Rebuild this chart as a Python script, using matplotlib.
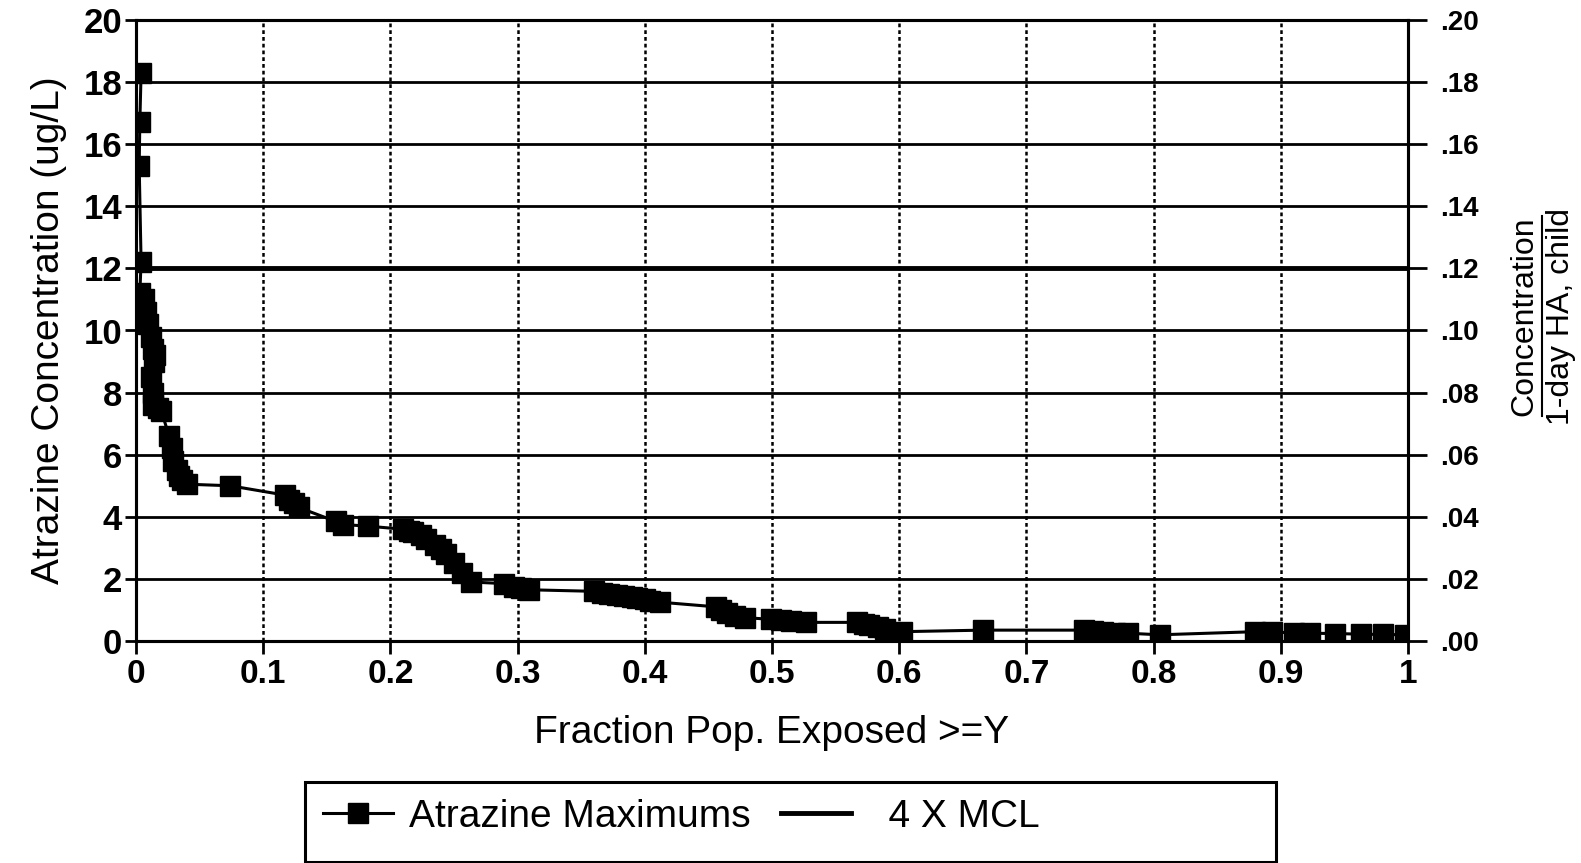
import matplotlib
matplotlib.use("Agg")
import matplotlib.pyplot as plt
from matplotlib.patches import Rectangle
from matplotlib.lines import Line2D

# Datos (fraccion de poblacion expuesta, concentracion ug/L)
frac = [0.004, 0.003, 0.0025, 0.004, 0.003, 0.006, 0.008, 0.0095, 0.012, 0.0135,
        0.015, 0.014, 0.012, 0.013, 0.0135, 0.017, 0.020, 0.026, 0.028, 0.029,
        0.032, 0.034, 0.036, 0.040, 0.074, 0.117, 0.120, 0.124, 0.128, 0.157,
        0.163, 0.182, 0.210, 0.215, 0.218, 0.224, 0.228, 0.235, 0.240, 0.244,
        0.250, 0.256, 0.263, 0.289, 0.297, 0.303, 0.309, 0.360, 0.366, 0.372,
        0.378, 0.384, 0.390, 0.394, 0.400, 0.404, 0.412, 0.456, 0.460, 0.465,
        0.471, 0.479, 0.499, 0.507, 0.515, 0.527, 0.567, 0.572, 0.576, 0.583,
        0.589, 0.602, 0.666, 0.745, 0.752, 0.760, 0.770, 0.780, 0.805, 0.880,
        0.893, 0.910, 0.923, 0.943, 0.963, 0.980, 0.998]
conc = [18.3, 16.7, 15.3, 12.2, 11.2, 11.0, 10.6, 10.2, 9.8, 9.4,
        9.2, 9.0, 8.5, 8.0, 7.6, 7.5, 7.4, 6.6, 6.2, 5.8,
        5.5, 5.3, 5.2, 5.05, 5.0, 4.7, 4.55, 4.45, 4.3, 3.85,
        3.75, 3.7, 3.6, 3.55, 3.5, 3.4, 3.3, 3.1, 2.95, 2.8,
        2.5, 2.2, 1.9, 1.85, 1.75, 1.7, 1.65, 1.6, 1.55, 1.5,
        1.48, 1.45, 1.42, 1.4, 1.35, 1.3, 1.25, 1.1, 1.0, 0.9,
        0.8, 0.75, 0.7, 0.68, 0.65, 0.6, 0.6, 0.55, 0.5, 0.45,
        0.4, 0.3, 0.35, 0.35, 0.32, 0.3, 0.27, 0.25, 0.2, 0.3,
        0.28, 0.27, 0.25, 0.24, 0.22, 0.21, 0.2]
mcl_4x = 12.0

x_ticks = [0, 0.1, 0.2, 0.3, 0.4, 0.5, 0.6, 0.7, 0.8, 0.9, 1.0]
x_labels = ["0", "0.1", "0.2", "0.3", "0.4", "0.5", "0.6", "0.7", "0.8", "0.9", "1"]
y_ticks = [0, 2, 4, 6, 8, 10, 12, 14, 16, 18, 20]
y2_ticks = [0, 0.02, 0.04, 0.06, 0.08, 0.10, 0.12, 0.14, 0.16, 0.18, 0.20]
y2_labels = [".00", ".02", ".04", ".06", ".08", ".10", ".12", ".14", ".16", ".18", ".20"]

plt.rcParams["font.family"] = ["Liberation Sans", "DejaVu Sans"]

W, H = 1581, 863
fig = plt.figure(figsize=(W / 100, H / 100), dpi=100)
ax = fig.add_axes([136 / W, 1 - 641 / H, 1272 / W, 621 / H])

ax.plot(frac, conc, color="black", lw=2.2, marker="s", ms=14, zorder=4)
ax.axhline(mcl_4x, color="black", lw=3.5, zorder=3)

ax.set_xlim(0, 1)
ax.set_ylim(0, 20)
ax.set_xticks(x_ticks)
ax.set_xticklabels(x_labels)
ax.set_yticks(y_ticks)

# rejilla: horizontales solidas, verticales punteadas
ax.grid(axis="y", color="black", lw=2, linestyle="-")
ax.grid(axis="x", color="black", lw=1.8, linestyle=(0, (1.5, 1.2)))
for s in ax.spines.values():
    s.set_linewidth(2.2)

ax.tick_params(axis="x", direction="out", length=9, width=2, pad=4, labelsize=24)
ax.tick_params(axis="y", direction="out", length=8, width=2, pad=2, labelsize=25)
for lbl in ax.get_xticklabels() + ax.get_yticklabels():
    lbl.set_fontweight("bold")

ax2 = ax.twinx()
ax2.set_ylim(0, 0.2)
ax2.set_yticks(y2_ticks)
ax2.set_yticklabels(y2_labels)
ax2.tick_params(axis="y", direction="out", length=14, width=2, pad=9, labelsize=20)
for lbl in ax2.get_yticklabels():
    lbl.set_fontweight("bold")
for s in ax2.spines.values():
    s.set_linewidth(2.2)

ax.set_xlabel("Fraction Pop. Exposed >=Y", fontsize=28, labelpad=18)
ax.set_ylabel("Atrazine Concentration (ug/L)", fontsize=28, labelpad=12)

# etiqueta derecha en dos lineas, la primera subrayada
t1 = fig.text(1524 / W, 1 - 316 / H, "Concentration", rotation=90,
              ha="center", va="center", fontsize=23)
fig.text(1561 / W, 1 - 316 / H, "1-day HA, child", rotation=90,
         ha="center", va="center", fontsize=23)
fig.canvas.draw()
bb = t1.get_window_extent()
xu = (bb.x1 + 3) / W
fig.add_artist(Line2D([xu, xu], [bb.y0 / H, bb.y1 / H], color="black", lw=1.5,
                      transform=fig.transFigure))

# leyenda con marco propio
fig.add_artist(Rectangle((305 / W, 1 / H), 971 / W, 80 / H, transform=fig.transFigure,
                         fill=False, edgecolor="black", lw=2.2))
handles = [Line2D([], [], color="black", lw=2.2, marker="s", ms=14),
           Line2D([], [], color="black", lw=3.5)]
fig.legend(handles, ["Atrazine Maximums", "  4 X MCL"], loc="center left",
           bbox_to_anchor=(323 / W, 1 - 817 / H), frameon=False, ncol=2,
           fontsize=28, handlelength=1.8, handletextpad=0.4, columnspacing=0.8,
           borderpad=0, borderaxespad=0, numpoints=1)

fig.savefig("out.png", dpi=100)
